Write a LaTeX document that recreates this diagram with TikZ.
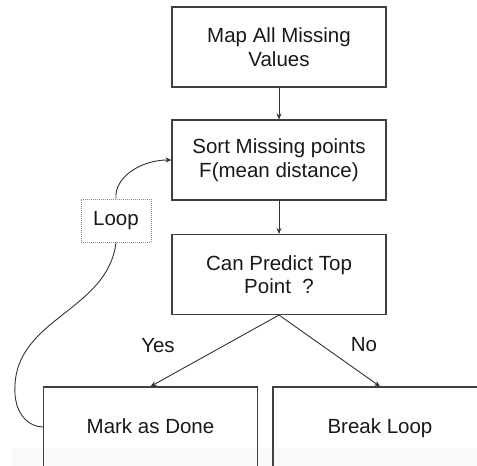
\documentclass[tikz,border=0pt]{standalone}
\usepackage{fontspec}
\setmainfont{Liberation Sans}
\usepackage{tikz}
\usetikzlibrary{arrows.meta}

\begin{document}
\begin{tikzpicture}[x=1pt, y=-1pt, >={Stealth[length=6pt,width=5pt]},
		stepbox/.style={draw=black!75, line width=1.1pt, minimum width=214pt, minimum height=80pt, align=center, inner sep=0pt},
		loopbox/.style={draw=black!45, densely dotted, line width=1pt, minimum width=70pt, minimum height=43pt, inner sep=0pt},
		every node/.style={font=\fontsize{20.5}{23.5}\selectfont, text=black!90}]
				\useasboundingbox (0,0) rectangle (477,466);
				\clip (0,0) rectangle (477,466);
				\fill[black!2.5] (12,448) rectangle (477,466);

				\node[stepbox] (map) at (279,47) {Map All Missing\\Values};
				\node[stepbox] (sort) at (279,160) {Sort Missing points\\F(mean distance)};
				\node[stepbox] (predict) at (279,274.5) {Can Predict Top\\Point\ \ ?};
				\node[stepbox, text height=1.3em, text depth=0.04em] (mark) at (150.5,427) {Mark as Done};
				\node[stepbox, text height=1.3em, text depth=0.04em] (break) at (380,427) {Break Loop};
				\node[loopbox] (loop) at (116,220.5) {Loop};

				\node (yes) at (158,346) {Yes};
				\node (no) at (364,345) {No};

				\draw[->, black!80, line width=0.9pt] (map) -- (sort);
				\draw[->, black!80, line width=0.9pt] (sort) -- (predict);
				\draw[->, black!80, line width=0.9pt] (predict.south) -- (mark.north);
				\draw[->, black!80, line width=0.9pt] (predict.south) -- (break.north);

				\draw[->, black!80, line width=0.9pt] (loop.north) .. controls (114,178) and (140,160) .. (sort.west);
				\draw[black!80, line width=0.9pt] (loop.south) .. controls (108,310) and (18,318) .. (15,385) .. controls (13,415) and (30,427) .. (mark.west);
			\end{tikzpicture}
\end{document}
